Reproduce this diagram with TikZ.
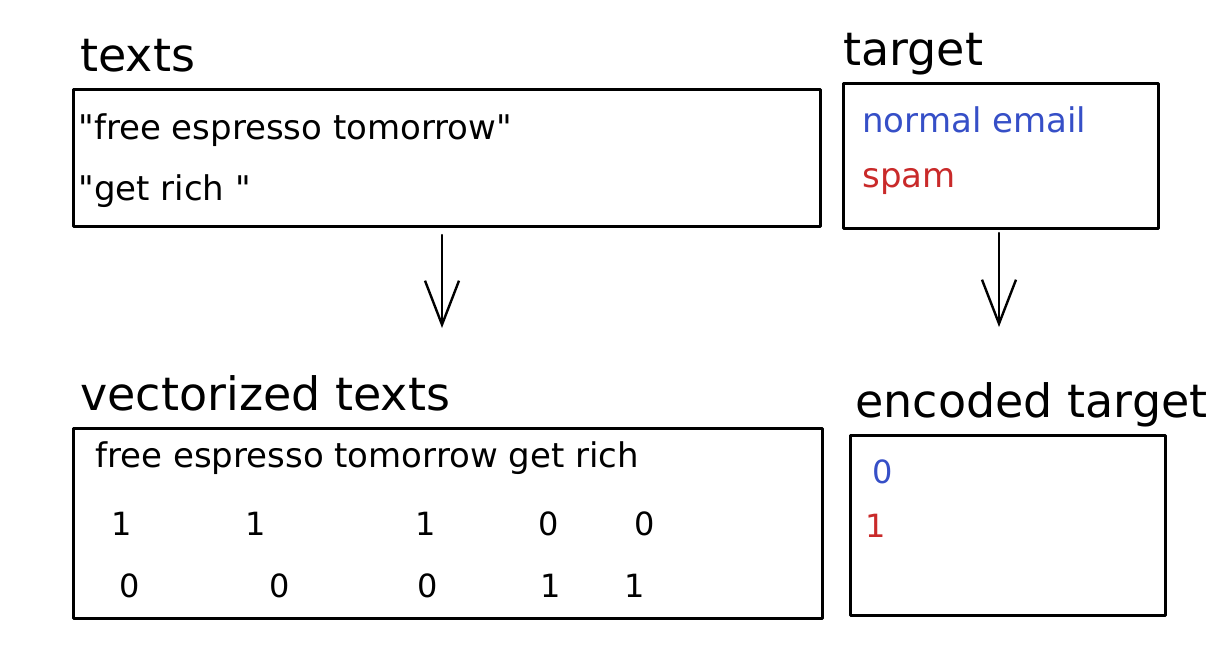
\documentclass[tikz,border=0pt]{standalone}
\usepackage{fontspec}
\setmainfont{DejaVu Sans}
\usepackage{tkz-euclide}
\usetikzlibrary{arrows.meta}
\definecolor{NormalClr}{RGB}{54,79,199}
\definecolor{SpamClr}{RGB}{201,42,42}

\begin{document}
\begin{tikzpicture}[x=0.5pt,y=-0.5pt]
\useasboundingbox (0,0) rectangle (1230,658);
\tkzSetUpLine[line width=1.5pt,color=black]
\tikzset{title/.style={anchor=base west,inner sep=0pt,font=\fontsize{23}{27}\selectfont},
  entry/.style={anchor=base west,inner sep=0pt,font=\fontsize{17}{20}\selectfont},
  digit/.style={anchor=base,inner sep=0pt,font=\fontsize{16}{19}\selectfont},
  down/.style={line width=1.2pt,-{Straight Barb[length=22pt,width=17pt]}}}

\tkzDefPoints{73/90/TA,820/90/TB,820/226/TC,73/226/TD}
\tkzDefPoints{843/84/GA,1158/84/GB,1158/228/GC,843/228/GD}
\tkzDefPoints{73/428/VA,822/428/VB,822/618/VC,73/618/VD}
\tkzDefPoints{850/435/EA,1165/435/EB,1165/615/EC,850/615/ED}
\tkzDefPoints{442/235/P1,442/328/P2,999/233/Q1,999/327/Q2}

\tkzDrawPolygon(TA,TB,TC,TD)
\tkzDrawPolygon(GA,GB,GC,GD)
\tkzDrawPolygon(VA,VB,VC,VD)
\tkzDrawPolygon(EA,EB,EC,ED)

\tkzDrawSegment[down](P1,P2)
\tkzDrawSegment[down](Q1,Q2)

% titles
\node[title] (ttexts) at (80,72) {texts};
\node[title] (ttarget) at (843,66) {target};
\node[title] (tvec) at (80,410) {vectorized texts};
\node[title] (tenc) at (855,417) {encoded target};

% raw data
\node[entry] (text1) at (78,140) {\textquotedbl free espresso tomorrow\textquotedbl};
\node[entry] (text2) at (78,200) {\textquotedbl get rich \textquotedbl};
\node[entry,NormalClr] (lab1) at (862,133) {normal email};
\node[entry,SpamClr] (lab2) at (862,187) {spam};

% vectorized
\node[entry] (vocab) at (95,467) {free espresso tomorrow get rich};
\foreach \x/\v [count=\i] in {122/1,256/1,426/1,549/0,645/0}
  \node[digit] (ra\i) at (\x,535) {\v};
\foreach \x/\v [count=\i] in {130/0,280/0,428/0,551/1,635/1}
  \node[digit] (rb\i) at (\x,597) {\v};

\node[digit,NormalClr] (enc1) at (883,483) {0};
\node[digit,SpamClr] (enc2) at (876,537) {1};

\end{tikzpicture}
\end{document}
